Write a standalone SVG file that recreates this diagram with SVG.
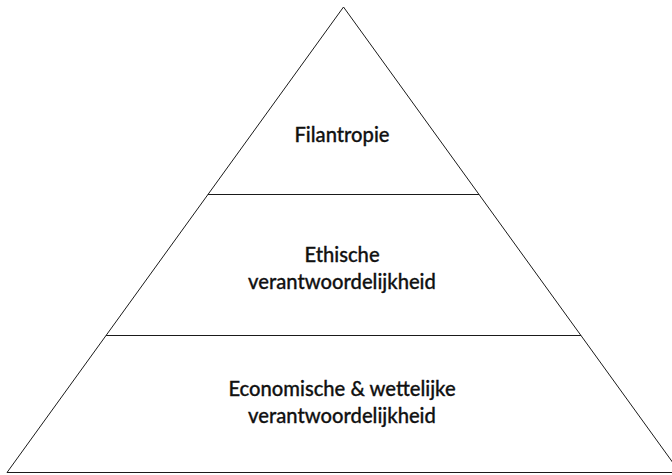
<svg xmlns="http://www.w3.org/2000/svg" width="672" height="475" viewBox="0 0 672 475">
<style>
.edge{stroke:#1a1a1a;stroke-width:1;fill:none}
.lbl{font-family:Lato,"Open Sans",sans-serif;font-size:20.2px;font-weight:500;fill:#111;stroke:#111;stroke-width:0.3;text-anchor:middle}
</style>
<rect width="672" height="475" fill="#fff"/>
<g id="connectors">
<path class="edge" d="M7,472.5 L343.5,7 L680,472.5 Z"/>
<line class="edge" x1="207.9" y1="194.5" x2="479.1" y2="194.5"/>
<line class="edge" x1="106" y1="335.5" x2="581" y2="335.5"/>
</g>
<g id="filantropie"><text class="lbl" x="342" y="142">Filantropie</text></g>
<g id="ethische"><text class="lbl" x="342" y="261.5">Ethische</text><text class="lbl" x="342" y="288.5">verantwoordelijkheid</text></g>
<g id="economische"><text class="lbl" x="342" y="396">Economische &amp; wettelijke</text><text class="lbl" x="342" y="423">verantwoordelijkheid</text></g>
</svg>
